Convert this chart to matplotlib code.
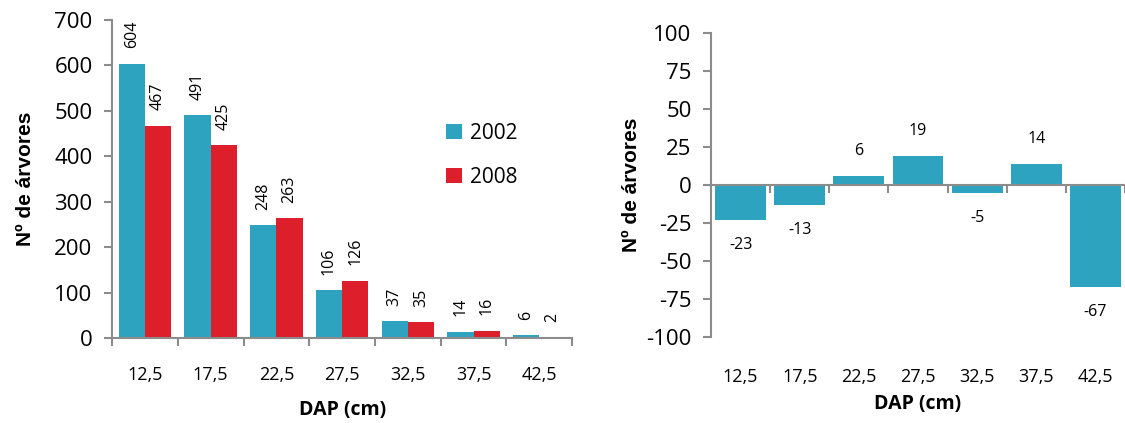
import matplotlib.pyplot as plt
import numpy as np

plt.rcParams['font.family'] = ['Open Sans', 'DejaVu Sans']
plt.rcParams['axes.unicode_minus'] = False

dap = ["12,5", "17,5", "22,5", "27,5", "32,5", "37,5", "42,5"]
n2002 = [604, 491, 248, 106, 37, 14, 6]
n2008 = [467, 425, 263, 126, 35, 16, 2]
diff = [-23, -13, 6, 19, -5, 14, -67]

blue = "#2EA3C0"
red = "#DC1F2A"
grey = "#8C8C8C"
ylab_font = ['Liberation Sans', 'DejaVu Sans']


def style_axis(ax):
    for s in ["top", "right"]:
        ax.spines[s].set_visible(False)
    for s in ["left", "bottom"]:
        ax.spines[s].set_color(grey)
        ax.spines[s].set_linewidth(1.5)
    ax.tick_params(axis="both", colors=grey, width=1.5, length=6)
    ax.tick_params(axis="y", labelcolor="black", labelsize=16, pad=8)


def main():
    fig = plt.figure(figsize=(11.25, 4.23), dpi=100)
    x = np.arange(len(dap))
    bounds = np.arange(len(dap) + 1) - 0.5

    # left panel
    ax1 = fig.add_axes([0.0996, 0.201, 0.409, 0.752])
    w = 0.4
    b1 = ax1.bar(x - w / 2, n2002, w, color=blue, label="2002")
    b2 = ax1.bar(x + w / 2, n2008, w, color=red, label="2008")
    for bars, vals in [(b1, n2002), (b2, n2008)]:
        for r, v in zip(bars, vals):
            ax1.annotate(str(v), (r.get_x() + r.get_width() / 2, v),
                         xytext=(0, 11), textcoords="offset points",
                         rotation=90, ha="center", va="bottom", fontsize=11.5)
    ax1.set_xlim(-0.5, len(dap) - 0.5)
    ax1.set_ylim(0, 700)
    ax1.set_yticks(range(0, 701, 100))
    style_axis(ax1)
    ax1.set_xticks(bounds)
    ax1.set_xticklabels([])
    ax1.set_xticks(x, minor=True)
    ax1.set_xticklabels(dap, minor=True)
    ax1.tick_params(axis="x", which="minor", length=0, pad=20,
                    labelsize=13, labelcolor="black")
    ax1.set_xlabel("DAP (cm)", fontsize=14, fontweight="bold", labelpad=12)
    ax1.set_ylabel("Nº de árvores", fontsize=15, fontweight="bold",
                   labelpad=14, family=ylab_font)
    ax1.legend(loc="center left", bbox_to_anchor=(0.685, 0.575), frameon=False,
               fontsize=15, handlelength=0.75, handleheight=0.75,
               labelspacing=1.1, handletextpad=0.4)

    # right panel
    ax2 = fig.add_axes([0.632, 0.203, 0.368, 0.719])
    bars = ax2.bar(x, diff, 0.86, color=blue)
    for r, v in zip(bars, diff):
        off = 18 if v > 0 else -18
        ax2.annotate(str(v), (r.get_x() + r.get_width() / 2, v),
                     xytext=(0, off), textcoords="offset points",
                     ha="center", va="center", fontsize=11.5)
    ax2.set_xlim(-0.5, len(dap) - 0.5)
    ax2.set_ylim(-100, 100)
    ax2.set_yticks(range(-100, 101, 25))
    style_axis(ax2)
    ax2.spines["bottom"].set_position(("data", 0))
    ax2.set_xticks(bounds)
    ax2.set_xticklabels([])
    sec = ax2.secondary_xaxis(0.0)
    sec.set_xticks(x)
    sec.set_xticklabels(dap)
    sec.spines["bottom"].set_visible(False)
    sec.tick_params(length=0, pad=22, labelsize=13)
    sec.set_xlabel("DAP (cm)", fontsize=14, fontweight="bold", labelpad=6)
    ax2.set_ylabel("Nº de árvores", fontsize=15, fontweight="bold",
                   labelpad=4, family=ylab_font)

    fig.savefig("out.png", dpi=100)


if __name__ == "__main__":
    main()
